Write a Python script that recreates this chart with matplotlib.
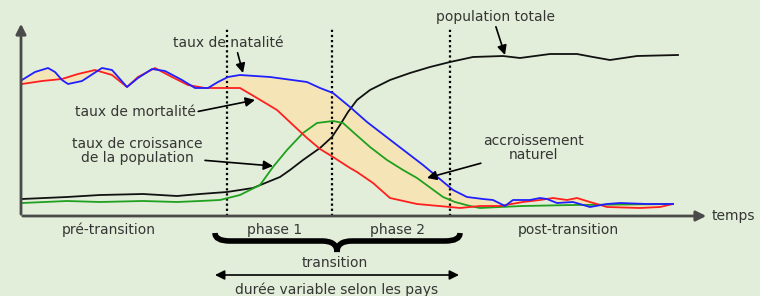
import numpy as np
import matplotlib.pyplot as plt
from matplotlib.path import Path
from matplotlib.patches import PathPatch

plt.rcParams['font.family'] = ['DejaVu Sans']

# temps (unités arbitraires) et niveaux
blue_t = [1, 14, 27, 34, 41, 47, 61, 81, 91, 106, 117, 131, 144, 161, 174, 187, 197, 207, 219, 249,
          286, 299, 312, 329, 346, 372, 402, 426, 432, 446, 462, 472, 484, 492, 509, 519, 526, 536,
          552, 569, 586, 599, 626, 652]
blue_v = [136, 144, 148, 144, 136, 132, 135, 148, 146, 129, 138, 147, 145, 136, 128, 128, 134, 139,
          141, 139, 134, 128, 123, 109, 94, 74, 51, 31, 26, 19, 17, 16, 10, 16, 16, 18, 17, 13, 14,
          9, 12, 13, 12, 12]

red_t = [1, 21, 41, 57, 74, 91, 106, 117, 134, 151, 167, 184, 201, 219, 236, 256, 272, 286, 299,
         312, 329, 336, 352, 369, 396, 429, 439, 459, 479, 502, 519, 532, 546, 556, 569, 586, 619,
         639, 652]
red_v = [132, 135, 137, 142, 146, 141, 129, 139, 148, 139, 131, 128, 128, 128, 118, 106, 91, 78,
         67, 59, 48, 44, 33, 18, 12, 9, 8, 10, 10, 14, 16, 18, 16, 18, 14, 9, 8, 9, 12]

green_t = [1, 46, 79, 122, 156, 179, 199, 219, 239, 252, 266, 282, 296, 312, 322, 332, 349, 366,
           382, 396, 422, 434, 449, 459, 479, 502, 552, 652]
green_v = [13, 15, 14, 15, 14, 15, 16, 21, 31, 49, 66, 83, 93, 95, 93, 84, 69, 56, 46, 38, 19, 14,
           10, 8, 9, 10, 11, 12]

black_t = [1, 46, 79, 122, 139, 156, 179, 206, 232, 259, 269, 282, 299, 311, 319, 327, 336, 349,
           369, 389, 409, 429, 452, 482, 499, 529, 556, 572, 589, 616, 657]
black_v = [17, 19, 21, 22, 21, 20, 22, 24, 28, 39, 46, 56, 68, 79, 91, 104, 116, 126, 136, 143,
           149, 154, 159, 160, 158, 162, 162, 159, 156, 160, 161]

phase_bounds = [206, 311, 429]
phase_labels = ['pré-transition', 'phase 1', 'phase 2', 'post-transition']
phase_label_t = [88, 254, 376, 547]

bg = '#e2eed9'
txt = '#353535'
fs = 10

fig = plt.figure(figsize=(7.6, 2.96), dpi=100, facecolor=bg)
ax = fig.add_axes([0, 0, 1, 1])
ax.set_facecolor(bg)
ax.set_xlim(-21, 739)
ax.set_ylim(-80, 216)
ax.axis('off')

# zone d'accroissement naturel
ax.fill(np.r_[blue_t, red_t[::-1]], np.r_[blue_v, red_v[::-1]], color='#f5e5b6', lw=0, zorder=1)

ax.plot(black_t, black_v, color='#111111', lw=1.3, zorder=3)
ax.plot(green_t, green_v, color='#1fa01f', lw=1.3, zorder=3)
ax.plot(red_t, red_v, color='#ff1f1f', lw=1.3, zorder=3)
ax.plot(blue_t, blue_v, color='#1f1fff', lw=1.3, zorder=3)

for b in phase_bounds:
    ax.plot([b, b], [0, 188], color='black', lw=1.6, ls=(0, (1, 1.3)), zorder=2)

# axes avec flèches
ax.annotate('', xy=(0, 195), xytext=(0, -1),
            arrowprops=dict(arrowstyle='-|>', color='#4a4a4a', lw=2, mutation_scale=15))
ax.annotate('', xy=(688, 0), xytext=(-1, 0),
            arrowprops=dict(arrowstyle='-|>', color='#4a4a4a', lw=2, mutation_scale=15))
ax.text(691, 0, 'temps', fontsize=fs, color=txt, va='center', ha='left')

for lab, t in zip(phase_labels, phase_label_t):
    ax.text(t, -14, lab, fontsize=fs, color=txt, ha='center', va='center')

arrow = dict(arrowstyle='-|>', color='black', lw=1.2, mutation_scale=14, shrinkA=0, shrinkB=0)
ax.annotate('taux de natalité', xy=(222, 143), xytext=(207, 173), fontsize=fs, color=txt,
            ha='center', va='center', arrowprops=dict(arrow, relpos=(0.58, 0)))
ax.annotate('population totale', xy=(484, 161), xytext=(474, 199), fontsize=fs, color=txt,
            ha='center', va='center', arrowprops=dict(arrow, relpos=(0.5, 0)))
ax.annotate('taux de mortalité', xy=(234, 116), xytext=(114, 104), fontsize=fs, color=txt,
            ha='center', va='center', arrowprops=dict(arrow, relpos=(1, 0.5)))
ax.annotate('taux de croissance\nde la population', xy=(252, 50), xytext=(116, 65), fontsize=fs,
            color=txt, ha='center', va='center', linespacing=1.0,
            arrowprops=dict(arrow, relpos=(0.93, 0.2)))
ax.annotate('accroissement\nnaturel', xy=(406, 38), xytext=(513, 68), fontsize=fs, color=txt,
            ha='center', va='center', linespacing=1.0,
            arrowprops=dict(arrow, relpos=(0.22, 0.2)))

# accolade "transition"
L, R, C = 194, 439, 316
top, bar, tip = -17, -25, -36
verts = [(L, top), (L, bar), (L + 15, bar), (C - 15, bar), (C, bar), (C, tip),
         (C, bar), (C + 15, bar), (R - 15, bar), (R, bar), (R, top)]
codes = [Path.MOVETO, Path.CURVE3, Path.CURVE3, Path.LINETO, Path.CURVE3, Path.CURVE3,
         Path.CURVE3, Path.CURVE3, Path.LINETO, Path.CURVE3, Path.CURVE3]
ax.add_patch(PathPatch(Path(verts, codes), fill=False, lw=4, color='black', capstyle='butt'))
ax.text(314, -47, 'transition', fontsize=fs, color=txt, ha='center', va='center')

ax.annotate('', xy=(194, -59), xytext=(438, -59),
            arrowprops=dict(arrowstyle='<|-|>', color='black', lw=1.2, mutation_scale=14,
                            shrinkA=0, shrinkB=0))
ax.text(316, -74, 'durée variable selon les pays', fontsize=fs, color=txt, ha='center', va='center')

fig.savefig('out.png', dpi=100, facecolor=bg)
